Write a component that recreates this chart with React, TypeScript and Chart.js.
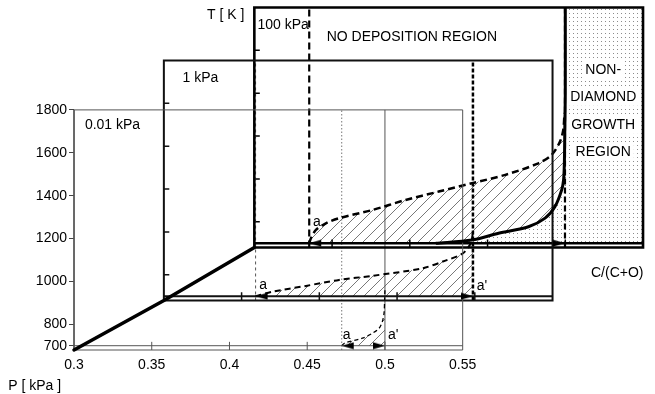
import React, { useEffect, useRef } from 'react';
import { Chart, registerables } from 'chart.js';

Chart.register(...registerables);

const FONT = "'Liberation Sans', Arial, Helvetica, sans-serif";

// ---- axis ranges of one pressure plane ----
const C_MIN = 0.3;
const C_MAX = 0.55;
const T_MIN = 680;
const T_MAX = 1800;
const T_BASE = 700;
// visible extent of the whole oblique drawing (in front-plane units)
const C_VIEW_MAX = 0.6692;
const T_VIEW_MAX = 2280;

// ---- tick labels ----
const C_TICKS = [0.3, 0.35, 0.4, 0.45, 0.5, 0.55];
const T_TICKS = [700, 800, 1000, 1200, 1400, 1600, 1800];
const C_INNER_TICKS = [0.35, 0.4, 0.45, 0.5];
const T_INNER_TICKS = [800, 1000, 1200, 1400, 1600];

// ---- pressure planes (P axis drawn obliquely) ----
const PRESSURES = ['0.01 kPa', '1 kPa', '100 kPa'];
const SHIFT_C = [0, 0.0578, 0.116];
const SHIFT_T = [0, 231, 478];

// ---- C/(C+O) of points a and a' at 700 K ----
const A_POINT = [0.4722, 0.359, 0.3353];
const A_PRIME = [0.5, 0.4988, 0.4998];

// ---- dashed boundary (lower C/(C+O) limit of diamond growth) ----
const LOW_C = [0.4722, 0.4744, 0.4855, 0.4919, 0.4962, 0.4983, 0.4994, 0.4998, 0.5];
const LOW_T = [700, 714, 735, 758, 781, 812, 851, 913, 960];
const MID_C = [0.3589, 0.37, 0.3914, 0.4127, 0.4341, 0.4661, 0.4811, 0.4918, 0.4961, 0.4978, 0.4988];
const MID_T = [700, 721, 748, 776, 795, 830, 866, 897, 931, 954, 1000];
const HIGH_C = [0.3353, 0.3364, 0.3396, 0.346, 0.3545, 0.3759, 0.3973, 0.4186, 0.44, 0.4614, 0.4827, 0.4912, 0.4966, 0.4987, 0.4995];
const HIGH_T = [700, 723, 762, 793, 817, 855, 902, 941, 980, 1019, 1073, 1112, 1174, 1229, 1308];

// ---- solid boundary of the non-diamond region at 100 kPa ----
const ND_C = [0.4167, 0.44, 0.4571, 0.4763, 0.487, 0.4934, 0.4977, 0.4989, 0.4994, 0.4997, 0.5, 0.5];
const ND_T = [700, 715, 747, 777, 817, 871, 949, 995, 1073, 1229, 1400, 1800];

// ---- text annotations (plane index, C/(C+O), T) ----
const PRESSURE_LABEL_C = [0.307, 0.312, 0.302];
const PRESSURE_LABEL_T = [1730, 1718, 1719];
const REGION_LINES = ['NON-', 'DIAMOND', 'GROWTH', 'REGION'];
const REGION_LINES_T = [1509, 1383, 1252, 1126];

type P = { x: number; y: number | null };
const pt = (f: number, c: number, t: number): P => ({ x: c + SHIFT_C[f], y: t + SHIFT_T[f] });
const curve = (f: number, cs: number[], ts: number[]): P[] => cs.map((c, i) => pt(f, c, ts[i]));
const sharp = (p: P): P[] => [p, { ...p }];
const last = <T,>(a: T[]): T => a[a.length - 1];

const ANNOTATIONS: any[] = [
  ...PRESSURES.map((text, f) => ({ text, f, c: PRESSURE_LABEL_C[f], t: PRESSURE_LABEL_T[f], align: 'left' })),
  { text: 'NO DEPOSITION REGION', f: 2, c: 0.4013, t: 1663, align: 'center' },
  ...REGION_LINES.map((text, i) => ({ text, f: 2, c: 0.5244, t: REGION_LINES_T[i], align: 'center', box: true })),
  { text: 'C/(C+O)', f: 0, c: 0.6494, t: 1039, align: 'center' },
  { text: 'T [ K ]', f: 2, c: 0.2936, t: 1765, align: 'right' },
  { text: 'P [ kPa ]', f: 0, c: 0.2577, t: 512, align: 'left' },
  { text: 'a', f: 0, c: 0.4728, t: 750, align: 'left' },
  { text: "a'", f: 0, c: 0.5019, t: 750, align: 'left' },
  { text: 'a', f: 1, c: 0.3614, t: 750, align: 'left' },
  { text: "a'", f: 1, c: 0.5012, t: 748, align: 'left' },
  { text: 'a', f: 2, c: 0.3378, t: 797, align: 'left' },
];

const annotationPlugin = {
  id: 'annotations',
  afterDatasetsDraw(chart: any) {
    const { ctx } = chart;
    const xs = chart.scales.x;
    const ys = chart.scales.y;
    ctx.save();
    ctx.textBaseline = 'middle';
    for (const a of ANNOTATIONS) {
      const px = xs.getPixelForValue(a.c + SHIFT_C[a.f]);
      const py = ys.getPixelForValue(a.t + SHIFT_T[a.f]);
      ctx.font = `14px ${FONT}`;
      ctx.textAlign = a.align;
      if (a.box) {
        const w = ctx.measureText(a.text).width + 6;
        ctx.fillStyle = '#fff';
        ctx.fillRect(px - w / 2, py - 9, w, 18);
      }
      ctx.fillStyle = '#000';
      ctx.fillText(a.text, px, py);
    }
    ctx.restore();
  },
};

function makeHatch(ctx: CanvasRenderingContext2D) {
  const s = 11;
  const c = document.createElement('canvas');
  c.width = s;
  c.height = s;
  const g = c.getContext('2d')!;
  g.strokeStyle = '#555';
  g.lineWidth = 0.8;
  g.beginPath();
  g.moveTo(-1, s + 1);
  g.lineTo(s + 1, -1);
  g.stroke();
  return ctx.createPattern(c, 'repeat');
}

function makeDots(ctx: CanvasRenderingContext2D) {
  const c = document.createElement('canvas');
  c.width = 4;
  c.height = 4;
  const g = c.getContext('2d')!;
  g.fillStyle = '#8c8c8c';
  g.fillRect(1, 1, 1, 1);
  return ctx.createPattern(c, 'repeat');
}

function makeArrow(dir: number) {
  const c = document.createElement('canvas');
  c.width = 26;
  c.height = 8;
  const g = c.getContext('2d')!;
  g.fillStyle = '#000';
  g.beginPath();
  g.moveTo(13, 4);
  if (dir > 0) {
    g.lineTo(1, 0.5);
    g.lineTo(1, 7.5);
  } else {
    g.lineTo(25, 0.5);
    g.lineTo(25, 7.5);
  }
  g.closePath();
  g.fill();
  return c;
}

function lineDs(data: P[], color: string, width: number, dash: number[] = [], extra: any = {}) {
  return {
    data,
    borderColor: color,
    borderWidth: width,
    borderDash: dash,
    pointRadius: 0,
    fill: false,
    tension: 0,
    clip: false,
    borderJoinStyle: 'miter',
    borderCapStyle: 'butt',
    order: 0,
    ...extra,
  };
}

function buildDatasets(hatch: any, dots: any, arrowL: any, arrowR: any) {
  const frames = [0, 1, 2];
  const FRAME_COLOR = ['#555', '#111', '#000'];
  const FRAME_W = [1, 2, 2.6];
  const TICK_T = 38;
  const TICK_C = 0.0035;

  const low = curve(0, LOW_C, LOW_T);
  const mid = curve(1, MID_C, MID_T);
  const high = curve(2, HIGH_C, HIGH_T);
  const nd = curve(2, ND_C, ND_T);
  const dashed = [low, mid, high];

  const ds: any[] = [];
  // P axis
  ds.push(lineDs(frames.map((f) => pt(f, C_MIN, T_MIN)), '#000', 3.5, [], { borderCapStyle: 'round' }));
  // non-diamond boundary
  ds.push(lineDs(nd, '#000', 3, [], { tension: 0.3 }));
  // frames
  frames.forEach((f) => {
    ds.push(
      lineDs(
        [pt(f, C_MIN, T_MIN), pt(f, C_MAX, T_MIN), pt(f, C_MAX, T_MAX), pt(f, C_MIN, T_MAX), pt(f, C_MIN, T_MIN)],
        FRAME_COLOR[f], FRAME_W[f], [], { borderCapStyle: 'square' }
      )
    );
    ds.push(lineDs([pt(f, C_MIN, T_BASE), pt(f, C_MAX, T_BASE)], FRAME_COLOR[f], FRAME_W[f]));
  });
  // dashed boundaries
  const DASH_W = [1.3, 2, 2.5];
  const DASH = [[4, 3], [6, 4], [7, 4]];
  frames.forEach((f) => ds.push(lineDs(dashed[f], '#000', DASH_W[f], DASH[f], { tension: 0.3 })));
  // a lines
  const A_STYLE = [
    { color: '#777', w: 1, dash: [1.5, 2] },
    { color: '#555', w: 1, dash: [3, 3] },
    { color: '#000', w: 2.2, dash: [7, 4] },
  ];
  frames.forEach((f) => {
    const s = A_STYLE[f];
    ds.push(lineDs([pt(f, A_POINT[f], T_MIN), pt(f, A_POINT[f], T_MAX)], s.color, s.w, s.dash));
  });
  // a' lines
  const AP_STYLE = [
    { color: '#555', w: 1, dash: [] },
    { color: '#000', w: 2.5, dash: [4, 2] },
    { color: '#000', w: 2.2, dash: [6, 3] },
  ];
  frames.forEach((f) => {
    const s = AP_STYLE[f];
    ds.push(lineDs([pt(f, A_PRIME[f], T_MIN), pt(f, A_PRIME[f], T_MAX)], s.color, s.w, s.dash));
  });
  // tick marks
  frames.forEach((f) => {
    const out: P[] = [];
    for (const c of C_INNER_TICKS) {
      out.push(pt(f, c, T_MIN), pt(f, c, T_MIN + TICK_T), { x: c + SHIFT_C[f], y: null });
    }
    if (f > 0) {
      for (const t of T_INNER_TICKS) {
        out.push(pt(f, C_MIN, t), pt(f, C_MIN + TICK_C, t), { x: C_MIN + SHIFT_C[f], y: null });
      }
    }
    ds.push(lineDs(out, FRAME_COLOR[f], f === 0 ? 1 : 1.5));
  });
  // arrows at a and a'
  ds.push({
    data: frames.map((f) => pt(f, A_POINT[f], T_BASE)),
    showLine: false, pointStyle: arrowL, pointRadius: 6, order: -1, clip: false,
  });
  ds.push({
    data: frames.map((f) => pt(f, A_PRIME[f], T_BASE)),
    showLine: false, pointStyle: arrowR, pointRadius: 6, order: -1, clip: false,
  });
  // fills
  const fillDs = (data: P[], pattern: any) => ({
    data, fill: 'shape', backgroundColor: pattern, borderWidth: 0, borderColor: 'rgba(0,0,0,0)',
    pointRadius: 0, tension: 0.3, order: 10, clip: false,
  });
  const hatch0 = [...sharp(low[0]), ...low.slice(1, -1), ...sharp(last(low)), ...sharp(pt(0, A_PRIME[0], T_BASE))];
  const hatch1 = [...sharp(mid[0]), ...mid.slice(1, -1), ...sharp(last(mid)), ...sharp(pt(1, A_PRIME[1], T_BASE))];
  const ndLower = nd.filter((_, i) => ND_T[i] <= HIGH_T[HIGH_T.length - 1] - 60).reverse();
  const hatch2 = [
    ...sharp(high[0]), ...high.slice(1, -1), ...sharp(last(high)),
    ...ndLower.slice(0, -1), ...sharp(last(ndLower)),
  ];
  const dotted = [
    ...sharp(nd[0]), ...nd.slice(1, -1), ...sharp(last(nd)),
    ...sharp(pt(2, C_MAX, T_MAX)), ...sharp(pt(2, C_MAX, T_BASE)),
  ];
  ds.push(fillDs(dotted, dots));
  ds.push(fillDs(hatch0, hatch));
  ds.push(fillDs(hatch1, hatch));
  ds.push(fillDs(hatch2, hatch));
  return ds;
}

export default function App() {
  const ref = useRef<HTMLCanvasElement | null>(null);
  useEffect(() => {
    const canvas = ref.current;
    if (!canvas) return;
    const ctx = canvas.getContext('2d')!;
    Chart.defaults.font.family = FONT;
    Chart.defaults.font.size = 14;
    Chart.defaults.color = '#000';
    const datasets = buildDatasets(makeHatch(ctx), makeDots(ctx), makeArrow(-1), makeArrow(1));
    const chart = new Chart(canvas, {
      type: 'line',
      data: { datasets },
      options: {
        responsive: false,
        animation: false,
        devicePixelRatio: 1,
        events: [],
        layout: { padding: { top: 7, right: 5, bottom: 14, left: 0 } },
        plugins: { legend: { display: false }, tooltip: { enabled: false }, title: { display: false } },
        scales: {
          x: {
            type: 'linear',
            min: C_MIN,
            max: C_VIEW_MAX,
            bounds: 'data',
            afterBuildTicks: (s: any) => {
              s.ticks = C_TICKS.map((value) => ({ value }));
            },
            afterFit: (s: any) => {
              s.height = 30;
              s.paddingLeft = 0;
              s.paddingRight = 0;
              s.paddingTop = 0;
              s.paddingBottom = 0;
            },
            ticks: { autoSkip: false, maxRotation: 0, minRotation: 0, padding: 7, color: '#000', callback: (v: any) => String(v) },
            grid: { display: false, drawTicks: false },
            border: { display: false },
          },
          y: {
            type: 'linear',
            min: T_MIN,
            max: T_VIEW_MAX,
            bounds: 'data',
            afterBuildTicks: (s: any) => {
              s.ticks = T_TICKS.map((value) => ({ value }));
            },
            afterFit: (s: any) => {
              s.width = 74;
              s.paddingLeft = 0;
              s.paddingRight = 0;
              s.paddingTop = 0;
              s.paddingBottom = 0;
            },
            ticks: { autoSkip: false, padding: 2, color: '#000', callback: (v: any) => String(v) },
            grid: { display: true, drawOnChartArea: false, drawTicks: true, tickLength: 5, color: '#444', lineWidth: 1 },
            border: { display: false },
          },
        },
      } as any,
      plugins: [annotationPlugin as any],
    });
    return () => chart.destroy();
  }, []);
  return (
    <div style={{ position: 'absolute', left: 0, top: 0, width: 655, height: 394, background: '#fff' }}>
      <canvas ref={ref} width={655} height={394} style={{ display: 'block', width: 655, height: 394 }} />
    </div>
  );
}
